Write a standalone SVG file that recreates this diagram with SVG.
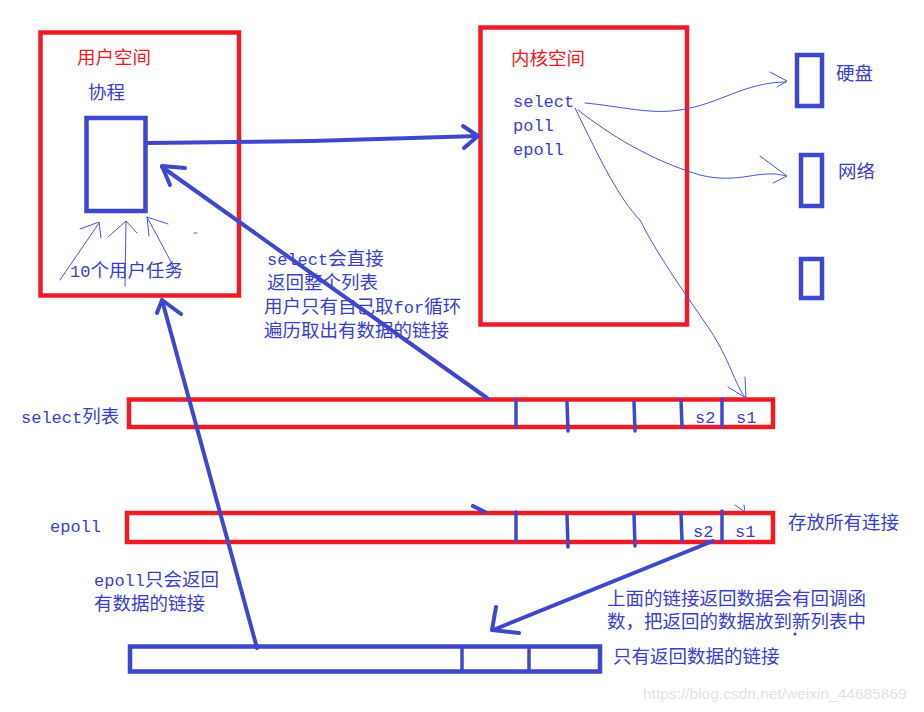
<svg xmlns="http://www.w3.org/2000/svg" width="924" height="712" viewBox="0 0 924 712">
<style>
.bg{fill:#ffffff}
.red{fill:none;stroke:#ED1C24;stroke-width:4.5}
.blu{fill:none;stroke:#3F48CC;stroke-width:4.5}
.big{fill:none;stroke:#3F48CC;stroke-width:4;stroke-linecap:round;stroke-linejoin:round}
.div{fill:none;stroke:#3F48CC;stroke-width:3.5;stroke-linecap:round}
.thin{fill:none;stroke:#4657D0;stroke-width:1;stroke-linecap:round;stroke-linejoin:round}
.t{font-family:"Noto Sans CJK SC","Liberation Serif",sans-serif;font-size:18.5px;fill:#3A3FC8}
.tr{font-family:"Noto Sans CJK SC","Liberation Serif",sans-serif;font-size:18.5px;fill:#ED1C24}
.m{font-family:"Liberation Mono","Noto Sans CJK SC",monospace;font-size:17px}
.wm{font-family:"Liberation Sans",Arial,sans-serif;font-size:15.5px;fill:#e2e2e2}
</style>
<rect class="bg" x="0" y="0" width="924" height="712"/>

<g id="user-space">
<rect class="red" x="40.5" y="32.5" width="198.5" height="263"/>
<text class="tr" x="77" y="64">用户空间</text>
<text class="t" x="88" y="99">协程</text>
</g>
<g id="coroutine">
<rect class="blu" x="86.5" y="118" width="59" height="93"/>
</g>
<g id="tasks">
<text class="t" x="70" y="277"><tspan class="m">10</tspan>个用户任务</text>
</g>

<g id="kernel-space">
<rect class="red" x="480.5" y="27.5" width="206.5" height="297"/>
<text class="tr" x="511" y="65">内核空间</text>
<text class="t m" x="513" y="107">select</text>
<text class="t m" x="513" y="131">poll</text>
<text class="t m" x="513" y="155">epoll</text>
</g>

<g id="disk">
<rect class="blu" x="797" y="55" width="25" height="51"/>
<text class="t" x="836" y="80">硬盘</text>
</g>
<g id="network">
<rect class="blu" x="801" y="155" width="21" height="51"/>
<text class="t" x="838" y="178">网络</text>
</g>
<g id="device3">
<rect class="blu" x="801" y="259" width="21" height="39"/>
</g>

<g id="note-select">
<text class="t" x="267" y="265"><tspan class="m">select</tspan>会直接</text>
<text class="t" x="267" y="289">返回整个列表</text>
<text class="t" x="264" y="313">用户只有自己取<tspan class="m">for</tspan>循环</text>
<text class="t" x="264" y="337">遍历取出有数据的链接</text>
</g>

<g id="select-list">
<text class="t m" x="21" y="423">select<tspan font-family="Noto Sans CJK SC" font-size="18.5px">列表</tspan></text>
<rect class="red" x="129" y="399.5" width="644" height="27.5"/>
<text class="t m" x="695" y="423">s2</text>
<text class="t m" x="736" y="423">s1</text>
</g>

<g id="epoll-list">
<text class="t m" x="50" y="532">epoll</text>
<rect class="red" x="127" y="513" width="646" height="29"/>
<text class="t m" x="693" y="537">s2</text>
<text class="t m" x="735" y="537">s1</text>
<text class="t" x="788" y="529">存放所有连接</text>
</g>

<g id="note-epoll">
<text class="t" x="94" y="586"><tspan class="m">epoll</tspan>只会返回</text>
<text class="t" x="94" y="610">有数据的链接</text>
</g>

<g id="note-callback">
<text class="t" x="607" y="605">上面的链接返回数据会有回调函</text>
<text class="t" x="607" y="628">数，把返回的数据放到新列表中</text>
</g>

<g id="result-list">
<rect class="blu" x="130" y="646.5" width="470" height="25"/>
<text class="t" x="613" y="663">只有返回数据的链接</text>
</g>

<g id="connectors">
<!-- dividers -->
<line class="div" x1="516" y1="400" x2="516" y2="427"/>
<line class="div" x1="567" y1="402" x2="568" y2="431"/>
<line class="div" x1="634" y1="402" x2="635" y2="431"/>
<line class="div" x1="681" y1="400" x2="682" y2="427"/>
<line class="div" x1="722" y1="399" x2="722" y2="427"/>
<line class="div" x1="516" y1="512" x2="516" y2="541"/>
<line class="div" x1="567" y1="515" x2="568" y2="547"/>
<line class="div" x1="634" y1="514" x2="635" y2="546"/>
<line class="div" x1="681" y1="513" x2="682" y2="541"/>
<line class="div" x1="722" y1="511" x2="722" y2="541"/>
<line class="div" x1="462" y1="647" x2="462" y2="671"/>
<line class="div" x1="529" y1="647" x2="529" y2="671"/>

<!-- coroutine to kernel -->
<path class="big" d="M147,143 L312,141 L478,136"/>
<path class="big" d="M463,126 L478,136 L464,148"/>

<!-- select list back to coroutine -->
<path class="big" d="M487,398 L162,167"/>
<path class="big" d="M185,168 L162,166 L170,185"/>

<!-- bottom list up to user space -->
<path class="big" d="M257,648 L162,300"/>
<path class="big" d="M157,313 L162,300 L181,314"/>

<!-- epoll to result list -->
<path class="big" d="M713,541 L493,630"/>
<path class="big" d="M496,607 L492,630 L519,633"/>

<!-- artifacts -->
<path class="big" d="M473,506 L485,512"/>
<path class="thin" d="M735,505 L745,512 L744,505"/>
<circle cx="795" cy="634" r="1.6" fill="#3F48CC"/>

<!-- thin hand-drawn arrows from select -->
<path class="thin" d="M585,103 C620,106 650,115 680,110 C720,104 745,82 786,82"/>
<path class="thin" d="M770,72 L787,81 L777,87"/>
<path class="thin" d="M578,110 C610,135 650,160 700,175 C740,185 760,168 786,176"/>
<path class="thin" d="M760,156 L787,176 L773,183"/>
<path class="thin" d="M575,108 C600,160 620,200 640,220 C660,260 690,300 710,330 C730,360 735,385 745,397"/>
<path class="thin" d="M745,377 L746,398 L728,387"/>

<!-- task arrows -->
<path class="thin" d="M60,280 L99,223"/>
<path class="thin" d="M80,229 L99,222 L101,238"/>
<path class="thin" d="M125,286 L126,222"/>
<path class="thin" d="M108,237 L126,221 L137,233"/>
<path class="thin" d="M177,273 L147,217"/>
<path class="thin" d="M149,236 L147,217 L168,224"/>
<line class="thin" x1="194" y1="233" x2="197" y2="233"/>
</g>

<text class="wm" x="643" y="699">https://blog.csdn.net/weixin_44685869</text>
</svg>
